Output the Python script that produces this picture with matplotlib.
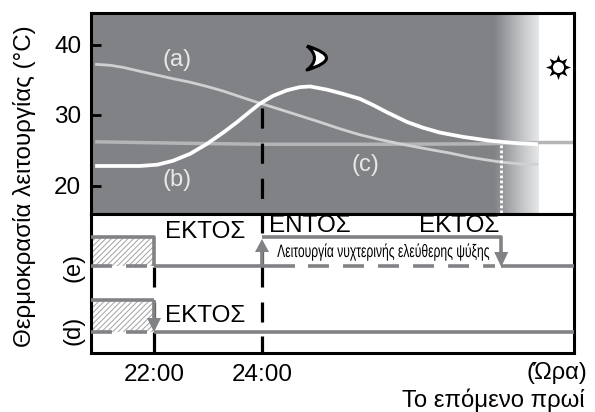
import numpy as np
import matplotlib
matplotlib.use("Agg")
import matplotlib.pyplot as plt
import matplotlib.patheffects as pe
from matplotlib.path import Path
from matplotlib.patches import PathPatch
from matplotlib.transforms import Affine2D
from matplotlib.colors import LinearSegmentedColormap

plt.rcParams['font.family'] = ['Liberation Sans', 'DejaVu Sans']
plt.rcParams['hatch.linewidth'] = 0.7

# --- data -----------------------------------------------------------------
hours_a = [20.91, 21.19, 21.43, 21.74, 22.06, 22.35, 22.67, 22.98, 23.28, 23.59, 23.91, 24.33,
           24.70, 25.07, 25.44, 25.81, 26.19, 26.56, 27.11, 27.48, 27.85, 28.35, 28.72, 29.11]
temp_a = [37.2, 37.05, 36.75, 36.2, 35.65, 35.15, 34.65, 34.05, 33.4, 32.6, 31.8, 30.8,
          29.9, 29.0, 28.05, 27.2, 26.5, 25.9, 25.1, 24.6, 24.0, 23.4, 23.1, 23.0]
hours_b = [20.91, 21.74, 22.06, 22.35, 22.67, 22.98, 23.28, 23.54, 23.78, 23.96, 24.20, 24.46, 24.70,
           24.89, 25.20, 25.50, 25.81, 26.06, 26.31, 26.69, 26.98, 27.30, 27.72, 28.22, 28.72, 29.11]
temp_b = [22.77, 22.77, 22.95, 23.5, 24.5, 25.9, 27.5, 29.0, 30.5, 31.6, 32.7, 33.5, 33.95,
          34.05, 33.6, 33.0, 32.3, 31.4, 30.4, 29.0, 28.2, 27.5, 26.9, 26.35, 26.0, 25.85]
hours_c = [20.91, 22.5, 24.0, 26.0, 28.0, 29.2, 29.78]
temp_c = [26.2, 26.0, 25.85, 25.85, 25.9, 26.1, 26.1]
x_ticks = [22, 24]
x_labels = ['22:00', '24:00']
y_ticks = [20, 30, 40]
off_time_d = 22.0
off_time_e = 22.0
on_time = 24.0
off_time_morning = 28.43
labels_off = 'ΕΚΤΟΣ'
label_on = 'ΕΝΤΟΣ'
caption = 'Λειτουργία νυχτερινής ελεύθερης ψύξης'

# --- layout (pixel helpers) -----------------------------------------------
W, H = 595, 412
L, R, T, MID, B = 91, 574, 13, 214, 353
GREY = '#808285'
fig = plt.figure(figsize=(W / 100, H / 100), dpi=100)
def box(l, r, t, b):
    return [l / W, 1 - b / H, (r - l) / W, (b - t) / H]
ax = fig.add_axes(box(L, R, T, MID))
ax2 = fig.add_axes(box(L, R, MID, B))
xlim = (22 + (L - 154) / 54, 22 + (R - 154) / 54)
ylim = (30 + (115 - MID) / 7.05, 30 + (115 - T) / 7.05)
for a in (ax, ax2):
    a.set_xlim(xlim)
    for s in a.spines.values():
        s.set_linewidth(2.2)
ax.set_ylim(ylim)
ax2.set_ylim(B, MID)  # state panel, pixel-like levels
def px(x):
    return 22 + (x - 154) / 54
def yv(y):
    return 30 + (115 - y) / 7.05
def txt(x, y, s, **k):
    return fig.text(x / W, 1 - y / H, s, **k)

class Squeeze(pe.AbstractPathEffect):
    """Draw real text condensed horizontally about a display x position."""
    def __init__(self, sx, x0):
        super().__init__()
        self.sx, self.x0 = sx, x0
    def draw_path(self, renderer, gc, tpath, affine, rgbFace=None):
        a = affine + Affine2D().translate(-self.x0, 0).scale(self.sx, 1).translate(self.x0, 0)
        renderer.draw_path(gc, tpath, a, rgbFace)

# background
ax.axvspan(xlim[0], px(494), color=GREY, lw=0, zorder=0)
cm = LinearSegmentedColormap.from_list('d', [GREY, '#a4a6a9', '#c8c9cb', '#e6e7e8'])
ax.imshow(np.linspace(0, 1, 128)[None, :], cmap=cm, aspect='auto',
          extent=(px(493.5), px(538), ylim[0], ylim[1]), zorder=0)
ax.set_xlim(xlim)
ax.set_ylim(ylim)

# curves
ax.plot(hours_c, temp_c, color='#b4b5b7', lw=2.5, zorder=2, solid_capstyle='butt')
ax.plot(hours_a, temp_a, color='#cfd0d2', lw=2.0, zorder=3, solid_capstyle='butt')
ax.plot(hours_b, temp_b, color='white', lw=2.7, zorder=4, solid_capstyle='butt')

# dashed markers
ax.plot([on_time, on_time], [31.0, ylim[0]], color='k', lw=2.3, dashes=(6.3, 4.7), zorder=3)
ax.plot([off_time_morning] * 2, [25.8, ylim[0]], color='white', lw=2.0, dashes=(1, 0.8), zorder=5)

ax.set_yticks(y_ticks)
ax.set_xticks([])
ax.tick_params(axis='y', direction='in', length=7, width=2, labelsize=17.5, pad=7)

ax2.set_xticks(x_ticks, x_labels)
ax2.set_yticks([])
ax2.tick_params(axis='x', length=0, labelsize=17.5, pad=8)

E_LOW, E_HIGH, D_LOW, D_HIGH = 266, 237, 332, 300
G = dict(color=GREY, lw=2.6, solid_capstyle='butt')
DASH = dict(color=GREY, lw=2.6, dashes=(5.8, 3.9))
# hatch areas
ax2.fill_between([xlim[0], off_time_e], E_LOW, E_HIGH, facecolor='none', edgecolor='#a0a1a3', hatch='//////', lw=0, zorder=1)
ax2.fill_between([xlim[0], off_time_d], D_LOW, D_HIGH, facecolor='none', edgecolor='#a0a1a3', hatch='//////', lw=0, zorder=1)

# black dashes in the panel
for x0, segs in ((off_time_d, [(267, 287), (302, 322), (332, 353)]),
                 (on_time, [(214, 233), (248, 287), (302, 322), (336, 353)])):
    for s0, s1 in segs:
        ax2.plot([x0, x0], [s0, s1], color='k', lw=2.3, solid_capstyle='butt', zorder=2)

# state lines (e)
ax2.plot([xlim[0], off_time_e, off_time_e], [E_HIGH, E_HIGH, E_LOW], **G, zorder=3)
ax2.plot([off_time_e, px(295)], [E_LOW, E_LOW], **G, zorder=3)
ax2.plot([xlim[0], px(147)], [E_LOW, E_LOW], **DASH, zorder=3)
ax2.plot([px(308), px(495)], [E_LOW, E_LOW], **DASH, zorder=3)
ax2.plot([off_time_morning, xlim[1]], [E_LOW, E_LOW], **G, zorder=3)
ax2.plot([on_time, off_time_morning, off_time_morning], [E_HIGH, E_HIGH, E_LOW - 8], **G, zorder=3)
ax2.plot([on_time, on_time], [E_LOW, E_HIGH + 8], **G, zorder=3)
# state lines (d)
ax2.plot([xlim[0], off_time_d], [D_HIGH, D_HIGH], **G, zorder=3)
ax2.plot([off_time_d, off_time_d], [D_HIGH, D_LOW - 8], **G, zorder=3)
ax2.plot([xlim[0], px(147)], [D_LOW, D_LOW], **DASH, zorder=3)
ax2.plot([off_time_d, xlim[1]], [D_LOW, D_LOW], **G, zorder=3)
# arrow heads
def head(x, tip, base):
    ax2.fill([x - 0.13, x + 0.13, x], [base, base, tip], color=GREY, lw=0, zorder=4)
head(on_time, 239, 252)
head(off_time_morning, 267, 252)
head(off_time_d, 332, 318)

# labels
FS = 17.5
ax2.text(px(205), 232, labels_off, fontsize=FS, ha='center', va='center')
ax2.text(px(205), 316, labels_off, fontsize=FS, ha='center', va='center')
ax2.text(px(310), 226, label_on, fontsize=FS, ha='center', va='center')
ax2.text(px(459), 226, labels_off, fontsize=FS, ha='center', va='center')
ax2.text(px(383), 252, caption, fontsize=13, ha='center', va='center', zorder=5,
         path_effects=[Squeeze(0.67, 383)])

for lab, x, y in (('(a)', 177, 60), ('(b)', 177, 180), ('(c)', 365, 165)):
    ax.text(px(x), yv(y), lab, color='#e8e8e8', fontsize=17, ha='center', va='center', zorder=6)

txt(73, 267, '(e)', fontsize=17, rotation=90, ha='center', va='center')
txt(73, 330, '(d)', fontsize=17, rotation=90, ha='center', va='center')
txt(25, 186, 'Θερμοκρασία λειτουργίας (°C)', fontsize=17.4, rotation=90, ha='center', va='center')
txt(587, 373, '(Ώρα)', fontsize=17, ha='right', va='center')
txt(585, 400, 'Το επόμενο πρωί', fontsize=17.2, ha='right', va='center')

# moon and sun
moon = Path([(px(307), yv(46)), (px(346), yv(58)), (px(307), yv(70)), (px(322), yv(58)), (px(307), yv(46))],
            [Path.MOVETO, Path.CURVE3, Path.LINETO, Path.CURVE3, Path.LINETO])
ax.add_patch(PathPatch(moon, facecolor='white', edgecolor='k', lw=2.2, joinstyle='round', zorder=6))
ax.plot([px(557.5)], [yv(67.5)], marker=(8, 1, 0), ms=18, color='k', mew=0, zorder=6)
ax.plot([px(557.5)], [yv(67.5)], marker='o', ms=9.5, mfc='white', mec='k', mew=1.5, zorder=7)

fig.savefig('out.png', dpi=100)
